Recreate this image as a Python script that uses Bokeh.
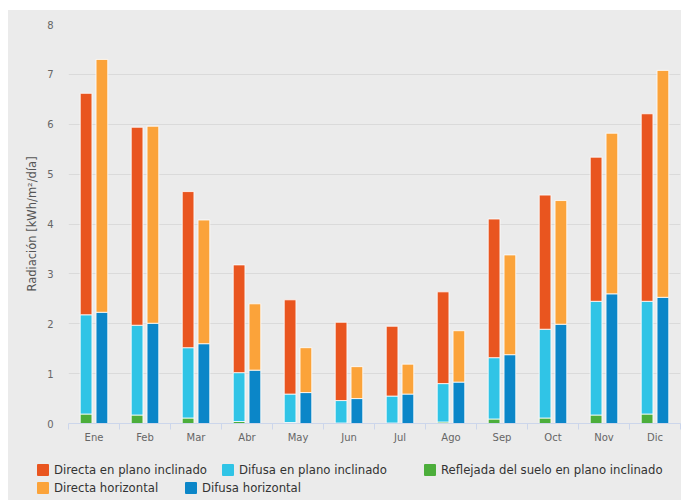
from bokeh.plotting import figure
from bokeh.layouts import column
from bokeh.models import (ColumnDataSource, Range1d, FixedTicker, LinearAxis,
                          SingleIntervalTicker, Div)
from bokeh.embed import file_html
from bokeh.resources import INLINE

months = ["Ene", "Feb", "Mar", "Abr", "May", "Jun", "Jul", "Ago", "Sep", "Oct", "Nov", "Dic"]
reflejada_incl = [0.19, 0.17, 0.11, 0.04, 0.02, 0.01, 0.01, 0.03, 0.09, 0.11, 0.17, 0.19]
difusa_incl = [1.99, 1.80, 1.41, 0.98, 0.57, 0.45, 0.54, 0.77, 1.23, 1.78, 2.28, 2.26]
directa_incl = [4.44, 3.97, 3.13, 2.16, 1.89, 1.57, 1.40, 1.84, 2.78, 2.69, 2.89, 3.76]
difusa_horiz = [2.23, 2.01, 1.60, 1.07, 0.62, 0.50, 0.59, 0.83, 1.38, 1.99, 2.60, 2.53]
directa_horiz = [5.07, 3.95, 2.48, 1.33, 0.90, 0.64, 0.60, 1.03, 2.00, 2.48, 3.22, 4.55]
series_names = ["Directa en plano inclinado", "Difusa en plano inclinado",
                "Reflejada del suelo en plano inclinado", "Directa horizontal", "Difusa horizontal"]

C_DIR_I = "#e9551f"
C_DIF_I = "#30c4e6"
C_REF_I = "#4cae3b"
C_DIR_H = "#fba33a"
C_DIF_H = "#0b86c8"
series_colors = [C_DIR_I, C_DIF_I, C_REF_I, C_DIR_H, C_DIF_H]
BG = "#ebebeb"
FONT = "DejaVu Sans"

n = len(months)
centers = [i + 0.5 for i in range(n)]
src = ColumnDataSource(dict(
    x_incl=[c - 0.155 for c in centers],
    x_horiz=[c + 0.155 for c in centers],
    refl=reflejada_incl, dif_t=difusa_incl, dir_t=directa_incl,
    dif_h=difusa_horiz, dir_h=directa_horiz,
))

p = figure(width=673, height=445, x_range=Range1d(0, n), y_range=Range1d(0, 8),
           output_backend="svg", toolbar_location=None, x_axis_type=None,
           min_border_left=60, min_border_right=1, min_border_top=14, min_border_bottom=32)
p.background_fill_color = BG
p.border_fill_color = BG
p.outline_line_color = None

r_incl = p.vbar_stack(["refl", "dif_t", "dir_t"], x="x_incl", width=0.23, source=src,
                      fill_color=[C_REF_I, C_DIF_I, C_DIR_I], line_color="white", line_width=1,
                      line_alpha=0.8)
r_horiz = p.vbar_stack(["dif_h", "dir_h"], x="x_horiz", width=0.23, source=src,
                       fill_color=[C_DIF_H, C_DIR_H], line_color="white", line_width=1,
                       line_alpha=0.8)

# y axis
p.yaxis.ticker = SingleIntervalTicker(interval=1)
p.yaxis.axis_line_color = None
p.yaxis.major_tick_line_color = None
p.yaxis.minor_tick_line_color = None
p.yaxis.major_label_standoff = 9
p.yaxis.major_label_text_font = FONT
p.yaxis.major_label_text_font_size = "10px"
p.yaxis.major_label_text_color = "#666666"
p.yaxis.axis_label = "Radiación [kWh/m²/día]"
p.yaxis.axis_label_text_font = FONT
p.yaxis.axis_label_text_font_size = "11.5px"
p.yaxis.axis_label_text_font_style = "normal"
p.yaxis.axis_label_text_color = "#555555"
p.yaxis.axis_label_standoff = 5
p.ygrid.grid_line_color = "#dadada"
p.ygrid.ticker = SingleIntervalTicker(interval=1)
p.xgrid.grid_line_color = None

# x axis: labels at category centers, tick marks at category boundaries
xaxis = LinearAxis(ticker=FixedTicker(ticks=centers, minor_ticks=list(range(n + 1))))
xaxis.major_label_overrides = {c: m for c, m in zip(centers, months)}
xaxis.axis_line_color = "#ccd6eb"
xaxis.major_tick_line_color = None
xaxis.major_tick_out = 0
xaxis.major_tick_in = 0
xaxis.minor_tick_line_color = "#ccd6eb"
xaxis.minor_tick_out = 6
xaxis.minor_tick_in = 0
xaxis.major_label_standoff = 2
xaxis.major_label_text_font = FONT
xaxis.major_label_text_font_size = "10px"
xaxis.major_label_text_color = "#666666"
p.add_layout(xaxis, "below")

# legend strip under the chart: (swatch left x, row center y) inside the strip
legend_pos = [(29, 15), (214, 15), (416, 15), (29, 33), (177, 33)]
items_html = []
for name, colr, (lx, cy) in zip(series_names, series_colors, legend_pos):
    items_html.append(
        f'<div style="position:absolute;left:{lx}px;top:{cy - 6}px;width:12px;height:12px;'
        f'background:{colr};border-radius:1px;"></div>'
        f'<div style="position:absolute;left:{lx + 17}px;top:{cy - 8}px;height:16px;'
        f'line-height:16px;font-family:\'{FONT}\';font-size:11.7px;color:#333333;'
        f'white-space:nowrap;">{name}</div>'
    )
legend_div = Div(
    text=f'<div style="position:relative;width:673px;height:45px;background:{BG};">'
         + "".join(items_html) + "</div>",
    width=673, height=45, margin=0,
    styles={"background-color": BG},
)

layout = column(p, legend_div, spacing=0, margin=(10, 0, 0, 8),
                styles={"background-color": BG})
open("out.html", "w").write(file_html(layout, INLINE))
